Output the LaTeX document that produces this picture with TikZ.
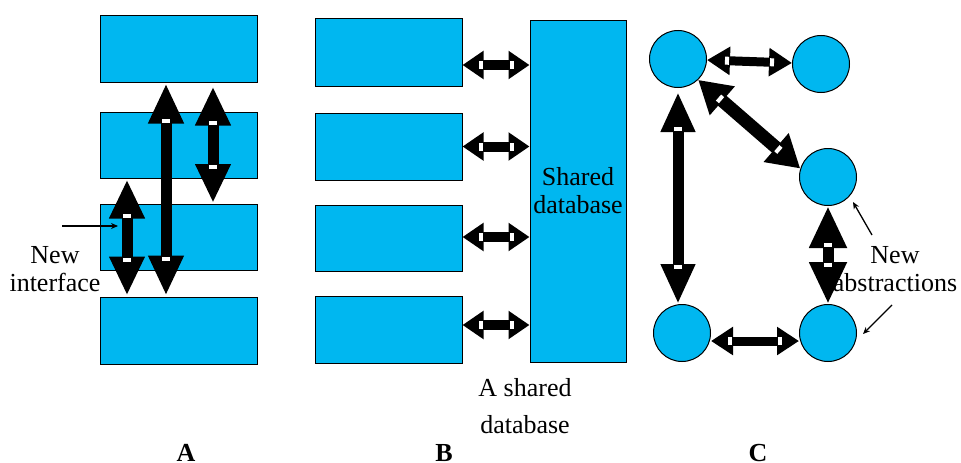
\documentclass[tikz,border=0pt]{standalone}
\usepackage{fontspec}
\setmainfont{Liberation Serif}
\usetikzlibrary{arrows.meta,decorations.markings}

\definecolor{skyblue}{RGB}{0,183,240}

\tikzset{
  box/.style={draw=black, line width=1pt, fill=skyblue, inner sep=0pt,
    minimum width=#1},
  circ/.style={circle, draw=black, line width=1pt, fill=skyblue,
    minimum size=57pt, inner sep=0pt},
  fatarrow/.style n args={3}{line width=#3,
    {Triangle[length=#1,width=#2]}-{Triangle[length=#1,width=#2]},
    postaction={decorate, decoration={markings,
      mark=at position #1-3pt with {\fill[white,-] (-2pt,-4pt) rectangle (2pt,4pt);},
      mark=at position -#1+3pt with {\fill[white,-] (-2pt,-4pt) rectangle (2pt,4pt);}}}},
  pointer/.style={line width=1.3pt, -{Stealth[length=7pt,width=6pt]}},
  label/.style={align=center, font=\fontsize{26}{28}\selectfont, inner sep=0pt}
}

\begin{document}
\begin{tikzpicture}[x=1pt,y=-1pt]
  \useasboundingbox (0,0) rectangle (961,463);

  % A: layered interfaces
  \node[box=157pt, minimum height=67pt] (a1) at (178.5,48.5) {};
  \node[box=157pt, minimum height=66pt] (a2) at (178.5,145) {};
  \node[box=157pt, minimum height=66pt] (a3) at (178.5,237.5) {};
  \node[box=157pt, minimum height=67pt] (a4) at (178.5,330.5) {};

  \draw[fatarrow={40pt}{33pt}{11pt}] ([xshift=-12.5pt,yshift=-1pt]a1.south) -- ([xshift=-12.5pt,yshift=1pt]a4.north);
  \draw[fatarrow={39pt}{33pt}{11pt}] ([xshift=34.5pt,yshift=-4pt]a1.south) -- ([xshift=34.5pt,yshift=1pt]a3.north);
  \draw[fatarrow={39pt}{33pt}{11pt}] ([xshift=-51.5pt,yshift=-1pt]a2.south) -- ([xshift=-51.5pt,yshift=1pt]a4.north);

  \node[label] (ni) at (55,269) {New\\interface};
  \coordinate (nistart) at (62,226);
  \coordinate (niend) at (118,226);
  \draw[pointer] (nistart) -- (niend);

  % B: shared database
  \node[box=147pt, minimum height=68pt] (b1) at (388.5,52) {};
  \node[box=147pt, minimum height=67pt] (b2) at (388.5,146.5) {};
  \node[box=147pt, minimum height=66pt] (b3) at (388.5,238) {};
  \node[box=147pt, minimum height=67pt] (b4) at (388.5,329.5) {};
  \node[box=96pt, minimum height=342pt, label] (db) at (578,191) {Shared\\database};

  \draw[fatarrow={21pt}{27pt}{10pt}] ([yshift=-13pt]b1.east) -- ([yshift=-13pt]b1.east -| db.west);
  \draw[fatarrow={21pt}{27pt}{10pt}] (b2.east) -- (b2.east -| db.west);
  \draw[fatarrow={21pt}{27pt}{10pt}] ([yshift=1pt]b3.east) -- ([yshift=1pt]b3.east -| db.west);
  \draw[fatarrow={21pt}{27pt}{10pt}] ([yshift=4.5pt]b4.east) -- ([yshift=4.5pt]b4.east -| db.west);

  \node[label] (sd) at (525,406) {A shared\\[9pt]database};

  % C: abstractions
  \node[circ] (c1) at (678,59) {};
  \node[circ] (c2) at (821,64) {};
  \node[circ] (c3) at (828,177) {};
  \node[circ] (c4) at (682,333) {};
  \node[circ] (c5) at (828,333) {};

  \draw[fatarrow={23pt}{27pt}{9pt}] (c1) -- (c2);
  \draw[fatarrow={32pt}{36pt}{13pt}] (c1.314) -- (c3.163);
  \draw[fatarrow={40pt}{32pt}{11pt}] ([yshift=-4pt]c1.south) -- (c1.south |- c4.north);
  \draw[fatarrow={42pt}{35pt}{11pt}] (c3.south) -- (c5.north);
  \draw[fatarrow={22pt}{27pt}{9pt}] ([yshift=-8pt]c4.east) -- ([yshift=-8pt]c5.west);

  \node[label] (na) at (895,269) {New\\abstractions};
  \coordinate (nastart) at (872,235);
  \coordinate (naend) at (853,202);
  \coordinate (nbstart) at (892,305);
  \coordinate (nbend) at (863,334);
  \draw[pointer] (nastart) -- (naend);
  \draw[pointer] (nbstart) -- (nbend);

  % panel letters
  \node[label, font=\fontsize{26}{28}\selectfont\bfseries] (la) at (186,453) {A};
  \node[label, font=\fontsize{26}{28}\selectfont\bfseries] (lb) at (444,453) {B};
  \node[label, font=\fontsize{26}{28}\selectfont\bfseries] (lc) at (758,453) {C};
\end{tikzpicture}
\end{document}
